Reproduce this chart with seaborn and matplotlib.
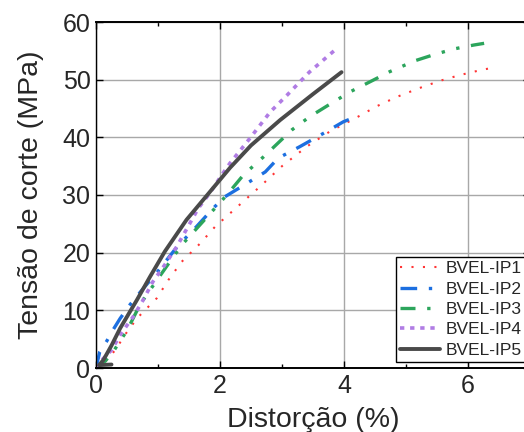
import numpy as np
import pandas as pd
import matplotlib
matplotlib.use("Agg")
import matplotlib.pyplot as plt
import seaborn as sns

# Distortion (%) and shear stress (MPa) for each specimen
ip1_x = [0.00, 0.15, 0.31, 0.47, 0.66, 0.87, 0.98, 1.17, 1.38, 1.68, 1.92, 2.16, 2.43, 2.67,
         3.00, 3.40, 3.77, 4.18, 4.53, 4.85, 5.28, 5.58, 5.87, 6.22, 6.42]
ip1_y = [0.0, 1.1, 3.1, 5.8, 8.6, 10.9, 12.1, 15.3, 18.4, 21.6, 24.5, 26.8, 29.4, 31.7,
         35.0, 38.4, 41.0, 43.3, 45.4, 47.0, 48.8, 49.9, 50.8, 51.7, 52.1]

ip2_x = [0.00, 0.06, 0.17, 0.28, 0.39, 0.55, 0.74, 1.00, 1.27, 1.44, 1.62, 1.89, 2.08,
         2.43, 2.73, 2.94, 3.29, 3.67, 3.99, 4.20]
ip2_y = [0.0, 2.8, 4.6, 6.7, 8.6, 11.0, 13.5, 16.8, 20.5, 22.5, 24.5, 27.7, 29.7,
         32.0, 34.0, 36.4, 38.4, 40.7, 42.7, 43.6]

ip3_x = [0.00, 0.15, 0.30, 0.50, 0.71, 0.87, 1.19, 1.38, 1.70, 2.11, 2.38, 2.70, 3.16,
         3.45, 3.72, 4.10, 4.45, 4.74, 5.15, 5.44, 5.76, 6.09, 6.26]
ip3_y = [0.0, 1.2, 3.2, 6.5, 11.0, 13.5, 18.4, 21.3, 25.1, 30.0, 33.5, 36.6, 41.3,
         43.6, 45.4, 47.9, 49.8, 51.4, 53.3, 54.3, 55.3, 56.0, 56.3]

ip4_x = [0.00, 0.06, 0.25, 0.40, 0.60, 0.75, 0.92, 1.11, 1.30, 1.65, 1.84, 2.03, 2.16,
         2.48, 2.81, 3.08, 3.44, 3.85]
ip4_y = [0.0, 1.0, 3.1, 5.9, 8.9, 11.6, 15.0, 17.9, 21.0, 27.7, 30.4, 33.5, 35.5,
         39.8, 44.4, 47.3, 51.3, 55.1]

ip5_x = [0.25, 0.05, 0.12, 0.25, 0.39, 0.66, 0.87, 1.11, 1.46, 1.95, 2.16, 2.50, 2.97,
         3.50, 3.96]
ip5_y = [0.6, 0.5, 1.4, 3.9, 6.9, 11.8, 15.8, 20.2, 25.7, 32.0, 34.7, 38.6, 43.0,
         47.5, 51.3]

labels = ["BVEL-IP1", "BVEL-IP2", "BVEL-IP3", "BVEL-IP4", "BVEL-IP5"]
xs = [ip1_x, ip2_x, ip3_x, ip4_x, ip5_x]
ys = [ip1_y, ip2_y, ip3_y, ip4_y, ip5_y]

df = pd.concat(
    [pd.DataFrame({"x": x, "y": y, "Ensaio": lab}) for x, y, lab in zip(xs, ys, labels)],
    ignore_index=True,
)

sns.set_theme(style="white")
plt.rcParams["font.family"] = ["Liberation Sans", "DejaVu Sans"]

palette = {
    "BVEL-IP1": "#ff3535",
    "BVEL-IP2": "#1c6fe0",
    "BVEL-IP3": "#2ca55c",
    "BVEL-IP4": "#b07ce4",
    "BVEL-IP5": "#4a4a4a",
}
dashes = {
    "BVEL-IP1": (1.0, 4.5),
    "BVEL-IP2": (5.0, 3.5, 1.0, 3.5),
    "BVEL-IP3": (4.5, 3.5, 1.0, 3.5, 1.0, 3.5),
    "BVEL-IP4": (1.2, 1.6),
    "BVEL-IP5": "",
}
widths = {"BVEL-IP1": 1.5, "BVEL-IP2": 2.4, "BVEL-IP3": 2.4, "BVEL-IP4": 2.6, "BVEL-IP5": 2.8}

fig = plt.figure(figsize=(5.24, 4.32), dpi=100)
ax = fig.add_axes([96 / 524, 64 / 432, 434 / 524, 346 / 432])

for lab in labels:
    sub = df[df["Ensaio"] == lab]
    sns.lineplot(data=sub, x="x", y="y", ax=ax, sort=False, color=palette[lab],
                 linewidth=widths[lab], label=lab, estimator=None)
    line = ax.get_lines()[-1]
    line.set_solid_joinstyle("round")
    line.set_dash_joinstyle("round")
    if dashes[lab]:
        line.set_dashes(dashes[lab])

ax.set_xlim(0, 7)
ax.set_ylim(0, 60)
ax.set_xticks([0, 2, 4, 6])
ax.set_xticks([1, 3, 5, 7], minor=True)
ax.set_yticks([0, 10, 20, 30, 40, 50, 60])
ax.grid(True, which="major", color="#a8a8a8", linewidth=1.0)
ax.set_axisbelow(True)
ax.tick_params(which="both", direction="in", top=True, right=True, bottom=True, left=True,
               labelsize=18, color="black", pad=4)
ax.tick_params(which="major", length=5, width=1)
ax.tick_params(which="minor", length=3, width=1)
for s in ax.spines.values():
    s.set_color("black")
    s.set_linewidth(1.4)
ax.spines["left"].set_linewidth(1.0)

ax.set_xlabel("Distorção (%)", fontsize=20.5, labelpad=7)
ax.set_ylabel("Tensão de corte (MPa)", fontsize=20.5, labelpad=13)

leg = ax.legend(loc="lower left", bbox_to_anchor=(396 / 524, 70 / 432),
                bbox_transform=fig.transFigure, fontsize=12.5,
                frameon=True, fancybox=False, edgecolor="black", framealpha=1,
                handlelength=2.3, handletextpad=0.3, borderpad=0.25, labelspacing=0.3,
                borderaxespad=0.0)
leg.get_frame().set_linewidth(1.0)

fig.savefig("out.png", dpi=100)
